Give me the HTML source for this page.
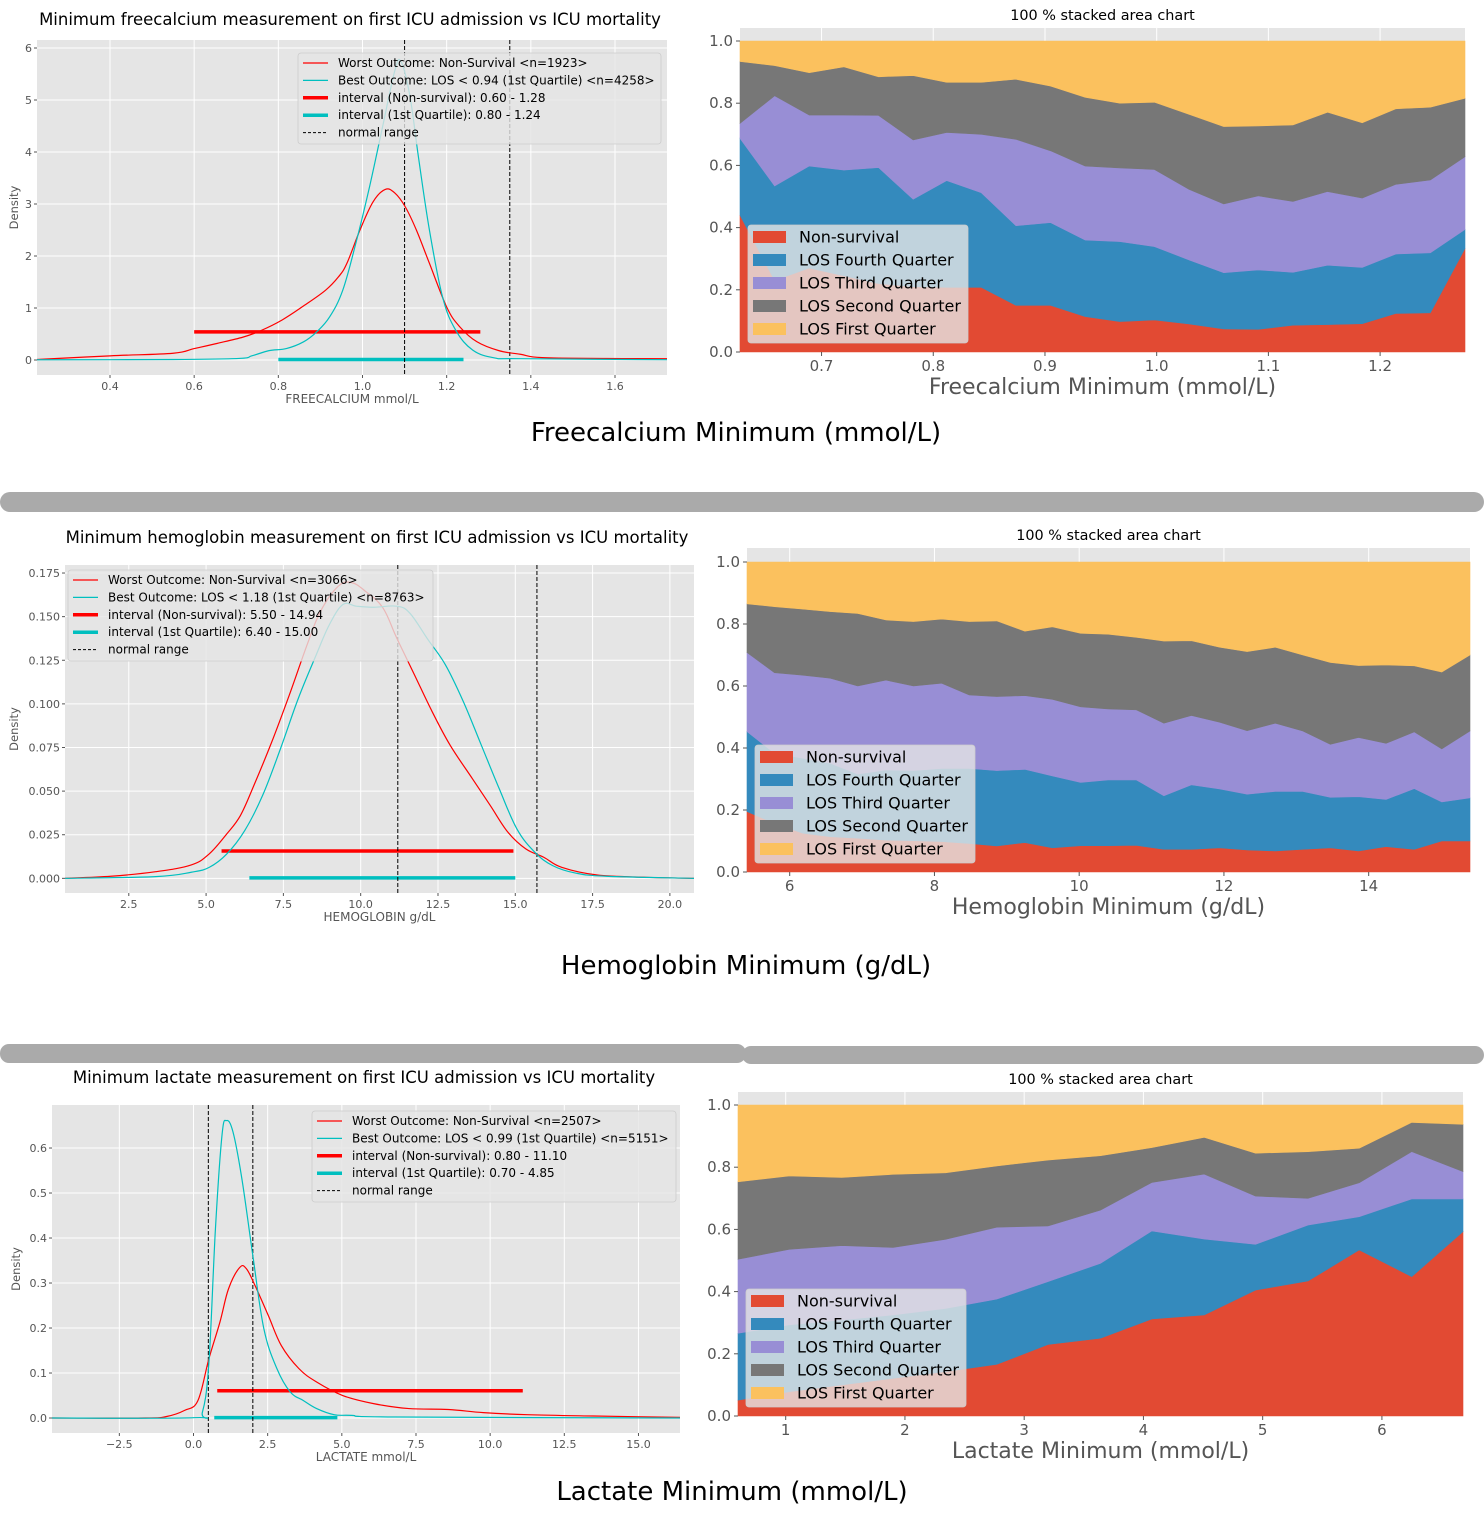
<!DOCTYPE html>
<html><head><meta charset="utf-8"><style>
html,body{margin:0;padding:0;background:#fff;}
svg{display:block;font-family:"DejaVu Sans","Liberation Sans",sans-serif;}
</style></head><body>
<svg id="root" width="1484" height="1540" viewBox="0 0 1484 1540" xmlns="http://www.w3.org/2000/svg">
<rect x="0" y="0" width="1484" height="1540" fill="#fff"/>
<rect x="0" y="492" width="1484" height="20" rx="10" fill="#AAAAAA"/>
<rect x="0" y="1044" width="746" height="19" rx="9" fill="#AAAAAA"/>
<rect x="742" y="1046" width="742" height="18" rx="9" fill="#AAAAAA"/>
<text x="736" y="441" font-size="26" text-anchor="middle" fill="#000">Freecalcium Minimum (mmol/L)</text>
<text x="746" y="974" font-size="26" text-anchor="middle" fill="#000">Hemoglobin Minimum (g/dL)</text>
<text x="732" y="1500" font-size="26" text-anchor="middle" fill="#000">Lactate Minimum (mmol/L)</text>
</svg>
<script>
// ---------- Freecalcium density chart data ----------
const fcRedX = [0.226,0.4,0.55,0.6,0.655,0.716,0.757,0.809,0.86,0.912,0.943,0.963,0.994,1.025,1.054,1.077,1.102,1.128,1.159,1.2,1.231,1.272,1.324,1.375,1.427,1.58,1.724];
const fcRedY = [0.01,0.08,0.13,0.22,0.32,0.44,0.56,0.77,1.04,1.34,1.6,1.86,2.5,3.04,3.28,3.21,2.94,2.5,1.86,1.02,0.64,0.35,0.18,0.11,0.045,0.03,0.025];
const fcCyanX = [0.226,0.55,0.706,0.737,0.778,0.819,0.86,0.891,0.922,0.953,0.984,1.015,1.046,1.077,1.092,1.113,1.133,1.159,1.19,1.221,1.262,1.314,1.375,1.724];
const fcCyanY = [0.005,0.01,0.03,0.08,0.18,0.22,0.35,0.54,0.83,1.34,2.24,3.27,4.42,5.57,5.73,5.06,3.9,2.5,1.22,0.58,0.19,0.04,0.025,0.006];
const fcIntervals = [0.60,1.28,0.54, 0.80,1.24,0.01];
const fcNormal = [1.10,1.35];
const fcXTicks = [0.4,0.6,0.8,1.0,1.2,1.4,1.6];
const fcXTickLabels = ["0.4","0.6","0.8","1.0","1.2","1.4","1.6"];
const fcYTicks = [0,1,2,3,4,5,6];
const fcYTickLabels = ["0","1","2","3","4","5","6"];
const fcLegend = ["Worst Outcome: Non-Survival <n=1923>","Best Outcome: LOS < 0.94 (1st Quartile) <n=4258>","interval (Non-survival): 0.60 - 1.28","interval (1st Quartile): 0.80 - 1.24","normal range"];

// ---------- Hemoglobin density chart data ----------
const hbRedX = [0.44,1.92,3.37,4.52,5.1,5.67,6.11,6.54,7.12,7.69,8.27,8.7,9.28,9.71,10.15,10.72,11.16,11.73,12.31,12.89,13.61,14.19,14.76,15.34,15.92,16.5,17.65,19.24,20.78];
const hbRedY = [0,0.0012,0.0038,0.0077,0.014,0.0255,0.036,0.053,0.078,0.105,0.134,0.153,0.1675,0.1695,0.1646,0.155,0.138,0.117,0.0956,0.0764,0.0572,0.0418,0.0265,0.0169,0.0121,0.0063,0.0019,0.0006,0];
const hbCyanX = [0.44,3.37,4.52,5.1,5.67,6.25,6.83,7.41,7.98,8.56,8.99,9.43,9.86,10.44,11.16,11.59,12.17,12.74,13.32,13.9,14.48,15.05,15.63,16.21,16.93,17.94,20.78];
const hbCyanY = [0,0.001,0.0035,0.0063,0.014,0.0274,0.0476,0.0745,0.103,0.128,0.1455,0.157,0.156,0.1554,0.156,0.152,0.137,0.1224,0.1013,0.0764,0.0514,0.0284,0.015,0.0073,0.0031,0.0012,0];
const hbIntervals = [5.50,14.94,0.0157, 6.40,15.00,0.0003];
const hbNormal = [11.2,15.7];
const hbXTicks = [2.5,5,7.5,10,12.5,15,17.5,20];
const hbXTickLabels = ["2.5","5.0","7.5","10.0","12.5","15.0","17.5","20.0"];
const hbYTicks = [0,0.025,0.05,0.075,0.1,0.125,0.15,0.175];
const hbYTickLabels = ["0.000","0.025","0.050","0.075","0.100","0.125","0.150","0.175"];
const hbLegend = ["Worst Outcome: Non-Survival <n=3066>","Best Outcome: LOS < 1.18 (1st Quartile) <n=8763>","interval (Non-survival): 5.50 - 14.94","interval (1st Quartile): 6.40 - 15.00","normal range"];

// ---------- Lactate density chart data ----------
const lcRedX = [-4.77,-1.63,-0.89,-0.3,0.15,0.52,0.89,1.18,1.55,1.78,2.07,2.52,2.96,3.55,4.15,5.03,6.07,7.26,8.59,9.77,11.25,13.47,16.41];
const lcRedY = [0,0,0.0037,0.017,0.039,0.132,0.213,0.287,0.334,0.332,0.295,0.228,0.161,0.11,0.08,0.05,0.032,0.021,0.019,0.012,0.0074,0.0044,0.0015];
const lcCyanX = [-4.77,0,0.3,0.52,0.74,0.96,1.11,1.33,1.63,2.0,2.37,2.81,3.26,3.7,4.15,4.74,5.33,6.81,16.41];
const lcCyanY = [0,0.0007,0.013,0.124,0.421,0.628,0.661,0.636,0.532,0.361,0.199,0.11,0.058,0.039,0.021,0.0074,0.0059,0.0022,0];
const lcIntervals = [0.80,11.10,0.0607, 0.70,4.85,0.001];
const lcNormal = [0.5,2.0];
const lcXTicks = [-2.5,0,2.5,5,7.5,10,12.5,15];
const lcXTickLabels = ["\u22122.5","0.0","2.5","5.0","7.5","10.0","12.5","15.0"];
const lcYTicks = [0,0.1,0.2,0.3,0.4,0.5,0.6];
const lcYTickLabels = ["0.0","0.1","0.2","0.3","0.4","0.5","0.6"];
const lcLegend = ["Worst Outcome: Non-Survival <n=2507>","Best Outcome: LOS < 0.99 (1st Quartile) <n=5151>","interval (Non-survival): 0.80 - 11.10","interval (1st Quartile): 0.70 - 4.85","normal range"];

// ---------- Stacked charts data (cumulative tops of each band) ----------
const sfX = [0.627,0.658,0.689,0.720,0.751,0.782,0.812,0.843,0.874,0.905,0.936,0.967,0.998,1.029,1.060,1.091,1.122,1.153,1.184,1.214,1.245,1.276];
const sfNonSurvival = [0.44,0.23,0.27,0.245,0.22,0.21,0.208,0.208,0.15,0.15,0.114,0.098,0.103,0.09,0.074,0.073,0.086,0.088,0.091,0.124,0.126,0.333];
const sfFourth = [0.687,0.534,0.598,0.585,0.593,0.491,0.551,0.512,0.406,0.416,0.360,0.355,0.339,0.296,0.255,0.264,0.256,0.279,0.272,0.315,0.319,0.394];
const sfThird = [0.735,0.824,0.762,0.762,0.761,0.682,0.706,0.700,0.684,0.647,0.598,0.592,0.587,0.523,0.476,0.502,0.484,0.516,0.495,0.539,0.553,0.628];
const sfSecond = [0.934,0.921,0.898,0.917,0.885,0.889,0.867,0.867,0.877,0.855,0.819,0.800,0.803,0.764,0.725,0.727,0.730,0.771,0.737,0.782,0.787,0.816];
const sfXTicks = [0.7,0.8,0.9,1.0,1.1,1.2];
const sfXTickLabels = ["0.7","0.8","0.9","1.0","1.1","1.2"];

const shX = [5.41,5.79,6.18,6.56,6.94,7.33,7.71,8.10,8.48,8.86,9.25,9.63,10.02,10.40,10.79,11.17,11.55,11.94,12.32,12.71,13.09,13.47,13.86,14.24,14.63,15.01,15.40];
const shNonSurvival = [0.195,0.157,0.125,0.114,0.109,0.103,0.101,0.098,0.092,0.084,0.095,0.078,0.085,0.085,0.086,0.073,0.073,0.078,0.071,0.068,0.073,0.078,0.068,0.082,0.073,0.100,0.100];
const shFourth = [0.453,0.383,0.367,0.351,0.316,0.329,0.327,0.334,0.334,0.327,0.331,0.310,0.289,0.297,0.297,0.246,0.281,0.268,0.251,0.260,0.260,0.241,0.243,0.234,0.269,0.226,0.239];
const shThird = [0.708,0.643,0.635,0.625,0.600,0.619,0.600,0.609,0.571,0.566,0.569,0.557,0.533,0.526,0.523,0.480,0.505,0.483,0.456,0.480,0.455,0.412,0.434,0.415,0.452,0.397,0.455];
const shSecond = [0.865,0.856,0.848,0.840,0.834,0.813,0.808,0.816,0.808,0.810,0.777,0.791,0.770,0.767,0.757,0.745,0.746,0.725,0.711,0.725,0.700,0.676,0.666,0.668,0.665,0.645,0.700];
const shXTicks = [6,8,10,12,14];
const shXTickLabels = ["6","8","10","12","14"];

const slX = [0.60,1.03,1.47,1.90,2.34,2.77,3.20,3.64,4.07,4.51,4.94,5.38,5.81,6.25,6.68];
const slNonSurvival = [0.051,0.078,0.100,0.121,0.143,0.166,0.230,0.250,0.312,0.325,0.405,0.434,0.534,0.448,0.593];
const slFourth = [0.266,0.293,0.309,0.325,0.346,0.376,0.432,0.491,0.595,0.569,0.552,0.614,0.641,0.698,0.698];
const slThird = [0.504,0.536,0.548,0.542,0.568,0.607,0.611,0.662,0.751,0.778,0.707,0.700,0.750,0.850,0.786];
const slSecond = [0.753,0.772,0.767,0.777,0.782,0.804,0.823,0.837,0.863,0.896,0.845,0.850,0.861,0.944,0.938];
const slXTicks = [1,2,3,4,5,6];
const slXTickLabels = ["1","2","3","4","5","6"];

const stackYTicks = [0,0.2,0.4,0.6,0.8,1.0];
const stackYTickLabels = ["0.0","0.2","0.4","0.6","0.8","1.0"];
const stackLegend = ["Non-survival","LOS Fourth Quarter","LOS Third Quarter","LOS Second Quarter","LOS First Quarter"];
const stackColors = ["#E24A33","#348ABD","#988ED5","#777777","#FBC15E"];

const NS = "http://www.w3.org/2000/svg";
const root = document.getElementById('root');
function mk(parent, tag, attrs, txt) {
  const e = document.createElementNS(NS, tag);
  for (const k in attrs) e.setAttribute(k, attrs[k]);
  if (txt !== undefined) e.textContent = txt;
  parent.appendChild(e);
  return e;
}
function scale(d0, d1, r0, r1) { return v => r0 + (v - d0) / (d1 - d0) * (r1 - r0); }
function smoothPath(P) {
  // monotone-x Catmull-Rom style cubic
  let d = 'M' + P[0][0] + ',' + P[0][1];
  for (let i = 0; i < P.length - 1; i++) {
    const p0 = P[Math.max(0, i-1)], p1 = P[i], p2 = P[i+1], p3 = P[Math.min(P.length-1, i+2)];
    const t = 0.18;
    const c1x = p1[0] + (p2[0]-p0[0])*t, c1y = p1[1] + (p2[1]-p0[1])*t;
    const c2x = p2[0] - (p3[0]-p1[0])*t, c2y = p2[1] - (p3[1]-p1[1])*t;
    d += ' C' + c1x + ',' + c1y + ' ' + c2x + ',' + c2y + ' ' + p2[0] + ',' + p2[1];
  }
  return d;
}

function densityChart(cfg) {
  const g = mk(root, 'g', {});
  
  
  const sx = scale(cfg.xd[0], cfg.xd[1], cfg.px[0], cfg.px[1]);
  const sy = scale(cfg.yd[0], cfg.yd[1], cfg.py[1], cfg.py[0]);
  const bg = mk(g, 'rect', {x: cfg.px[0], y: cfg.py[0], width: cfg.px[1]-cfg.px[0], height: cfg.py[1]-cfg.py[0], fill: '#E5E5E5'});
  
  
  cfg.xt.forEach((t, i) => {
    const X = sx(t);
    mk(g, 'line', {x1: X, x2: X, y1: cfg.py[0], y2: cfg.py[1], stroke: '#fff', 'stroke-width': 1});
    mk(g, 'line', {x1: X, x2: X, y1: cfg.py[1], y2: cfg.py[1]+3, stroke: '#555', 'stroke-width': 1});
    const tl = mk(g, 'text', {x: X, y: cfg.py[1]+15, 'font-size': 11, 'text-anchor': 'middle', fill: '#555'}, cfg.xl[i]);
    
    
  });
  cfg.yt.forEach((t, i) => {
    const Y = sy(t);
    mk(g, 'line', {x1: cfg.px[0], x2: cfg.px[1], y1: Y, y2: Y, stroke: '#fff', 'stroke-width': 1});
    mk(g, 'line', {x1: cfg.px[0]-3, x2: cfg.px[0], y1: Y, y2: Y, stroke: '#555', 'stroke-width': 1});
    const tl = mk(g, 'text', {x: cfg.px[0]-5, y: Y+4, 'font-size': 11, 'text-anchor': 'end', fill: '#555'}, cfg.yl[i]);
    
    
  });
  const clipId = cfg.name + '-clip';
  const cp = mk(g, 'clipPath', {id: clipId});
  mk(cp, 'rect', {x: cfg.px[0], y: cfg.py[0], width: cfg.px[1]-cfg.px[0], height: cfg.py[1]-cfg.py[0]});
  const pg = mk(g, 'g', {'clip-path': 'url(#' + clipId + ')'});
  const iv = cfg.iv;
  const r1 = mk(pg, 'line', {x1: sx(iv[0]), x2: sx(iv[1]), y1: sy(iv[2]), y2: sy(iv[2]), stroke: '#FF0000', 'stroke-width': 3.5});
  
  
  const r2 = mk(pg, 'line', {x1: sx(iv[3]), x2: sx(iv[4]), y1: sy(iv[5]), y2: sy(iv[5]), stroke: '#00BFBF', 'stroke-width': 3.5});
  
  
  cfg.normal.forEach(v => {
    const nl = mk(pg, 'line', {x1: sx(v), x2: sx(v), y1: cfg.py[0], y2: cfg.py[1], stroke: '#000', 'stroke-width': 1, 'stroke-dasharray': '4,2'});
    
    
  });
  const red = mk(pg, 'path', {d: smoothPath(cfg.rx.map((x, i) => [sx(x), sy(cfg.ry[i])])), fill: 'none', stroke: '#FF0000', 'stroke-width': 1.2});
  
  
  const cy = mk(pg, 'path', {d: smoothPath(cfg.cx.map((x, i) => [sx(x), sy(cfg.cy[i])])), fill: 'none', stroke: '#00BFBF', 'stroke-width': 1.2});
  
  
  const L = cfg.leg;
  const lg = mk(g, 'g', {});
  
  
  mk(lg, 'rect', {x: L[0], y: L[1], width: L[2], height: L[3], rx: 3, fill: '#E5E5E5', 'fill-opacity': 0.8, stroke: '#CCCCCC', 'stroke-width': 0.8});
  const sty = [['#FF0000',1.2,''],['#00BFBF',1.2,''],['#FF0000',3.5,''],['#00BFBF',3.5,''],['#000',1,'3,2']];
  cfg.legText.forEach((t, i) => {
    const yy = L[1] + 10 + i * 17.4;
    mk(lg, 'line', {x1: L[0]+5, x2: L[0]+30, y1: yy, y2: yy, stroke: sty[i][0], 'stroke-width': sty[i][1], 'stroke-dasharray': sty[i][2] || 'none'});
    const lt = mk(lg, 'text', {x: L[0]+40, y: yy+4, 'font-size': 12, fill: '#000'}, t);
    
    
  });
  const tt = mk(g, 'text', {x: cfg.title[1], y: cfg.title[2], 'font-size': 16.5, 'text-anchor': 'middle', fill: '#000'}, cfg.title[0]);
  
  
  const xl = mk(g, 'text', {x: (cfg.px[0]+cfg.px[1])/2, y: cfg.py[1]+28, 'font-size': 12, 'text-anchor': 'middle', fill: '#555'}, cfg.xlabel);
  
  
  const ylx = cfg.ylabx, yly = (cfg.py[0]+cfg.py[1])/2;
  const yl = mk(g, 'text', {x: ylx, y: yly, 'font-size': 11.5, 'text-anchor': 'middle', fill: '#555', transform: 'rotate(-90 ' + ylx + ' ' + yly + ')'}, 'Density');
  
  
}

function stackChart(cfg) {
  const g = mk(root, 'g', {});
  
  
  const sx = scale(cfg.x[0], cfg.x[cfg.x.length-1], cfg.px[0], cfg.px[1]);
  const sy = scale(0, 1, cfg.y0, cfg.y1);
  const bg = mk(g, 'rect', {x: cfg.px[0], y: cfg.top, width: cfg.px[1]-cfg.px[0], height: cfg.y0-cfg.top, fill: '#E5E5E5'});
  
  
  cfg.xt.forEach(t => mk(g, 'line', {x1: sx(t), x2: sx(t), y1: cfg.top, y2: cfg.y0, stroke: '#fff', 'stroke-width': 1}));
  const ones = cfg.x.map(() => 1);
  const zeros = cfg.x.map(() => 0);
  const bands = [zeros, cfg.s[0], cfg.s[1], cfg.s[2], cfg.s[3], ones];
  const names = ['area-non-survival','area-los-fourth-quarter','area-los-third-quarter','area-los-second-quarter','area-los-first-quarter'];
  for (let b = 0; b < 5; b++) {
    const lo = bands[b], hi = bands[b+1];
    const pts = cfg.x.map((x, i) => sx(x) + ',' + sy(hi[i]));
    for (let i = cfg.x.length - 1; i >= 0; i--) pts.push(sx(cfg.x[i]) + ',' + sy(lo[i]));
    const p = mk(g, 'polygon', {points: pts.join(' '), fill: stackColors[b], stroke: stackColors[b], 'stroke-width': 0.6});
    
    
  }
  stackYTicks.forEach((t, i) => {
    mk(g, 'line', {x1: cfg.px[0]-4, x2: cfg.px[0], y1: sy(t), y2: sy(t), stroke: '#555'});
    const tl = mk(g, 'text', {x: cfg.px[0]-7, y: sy(t)+5, 'font-size': 15, 'text-anchor': 'end', fill: '#555'}, stackYTickLabels[i]);
    
    
  });
  cfg.xt.forEach((t, i) => {
    mk(g, 'line', {x1: sx(t), x2: sx(t), y1: cfg.y0, y2: cfg.y0+4, stroke: '#555'});
    const tl = mk(g, 'text', {x: sx(t), y: cfg.y0+19, 'font-size': 15, 'text-anchor': 'middle', fill: '#555'}, cfg.xl[i]);
    
    
  });
  const L = cfg.leg;
  const lg = mk(g, 'g', {});
  
  
  mk(lg, 'rect', {x: L[0], y: L[1], width: 220, height: 118, rx: 3, fill: '#E5E5E5', 'fill-opacity': 0.8, stroke: '#CCCCCC', 'stroke-width': 0.8});
  stackLegend.forEach((t, i) => {
    const yy = L[1] + 12 + i * 23;
    mk(lg, 'rect', {x: L[0]+5, y: yy-6, width: 33, height: 12, fill: stackColors[i]});
    const lt = mk(lg, 'text', {x: L[0]+51, y: yy+5.5, 'font-size': 16, fill: '#000'}, t);
    
    
  });
  const cx = (cfg.px[0]+cfg.px[1])/2;
  const tt = mk(g, 'text', {x: cx, y: cfg.top-8, 'font-size': 14.4, 'text-anchor': 'middle', fill: '#000'}, '100 % stacked area chart');
  
  
  const xl = mk(g, 'text', {x: cx, y: cfg.y0+42, 'font-size': 22, 'text-anchor': 'middle', fill: '#555'}, cfg.xlabel);
  
  
}

densityChart({name: 'freecalcium-density-chart', px: [37,667], py: [40,375], xd: [0.2265,1.7236], yd: [-0.2885,6.154],
  rx: fcRedX, ry: fcRedY, cx: fcCyanX, cy: fcCyanY, iv: fcIntervals, normal: fcNormal,
  xt: fcXTicks, xl: fcXTickLabels, yt: fcYTicks, yl: fcYTickLabels, leg: [298,53,363,91], legText: fcLegend,
  title: ['Minimum freecalcium measurement on first ICU admission vs ICU mortality', 350, 25], xlabel: 'FREECALCIUM mmol/L', ylabx: 18});
densityChart({name: 'hemoglobin-density-chart', px: [65,694], py: [565,893], xd: [0.437,20.78], yd: [-0.0084,0.1796],
  rx: hbRedX, ry: hbRedY, cx: hbCyanX, cy: hbCyanY, iv: hbIntervals, normal: hbNormal,
  xt: hbXTicks, xl: hbXTickLabels, yt: hbYTicks, yl: hbYTickLabels, leg: [68,570,365,91], legText: hbLegend,
  title: ['Minimum hemoglobin measurement on first ICU admission vs ICU mortality', 377, 543], xlabel: 'HEMOGLOBIN g/dL', ylabx: 18});
densityChart({name: 'lactate-density-chart', px: [52,680], py: [1105,1433], xd: [-4.77,16.4], yd: [-0.0333,0.6956],
  rx: lcRedX, ry: lcRedY, cx: lcCyanX, cy: lcCyanY, iv: lcIntervals, normal: lcNormal,
  xt: lcXTicks, xl: lcXTickLabels, yt: lcYTicks, yl: lcYTickLabels, leg: [312,1111,364,91], legText: lcLegend,
  title: ['Minimum lactate measurement on first ICU admission vs ICU mortality', 364, 1083], xlabel: 'LACTATE mmol/L', ylabx: 20});

stackChart({name: 'freecalcium-stacked-area-chart', x: sfX, s: [sfNonSurvival, sfFourth, sfThird, sfSecond], px: [740,1465], top: 28, y0: 352, y1: 41,
  xt: sfXTicks, xl: sfXTickLabels, leg: [748,225], xlabel: 'Freecalcium Minimum (mmol/L)'});
stackChart({name: 'hemoglobin-stacked-area-chart', x: shX, s: [shNonSurvival, shFourth, shThird, shSecond], px: [747,1470], top: 548, y0: 872, y1: 562,
  xt: shXTicks, xl: shXTickLabels, leg: [755,745], xlabel: 'Hemoglobin Minimum (g/dL)'});
stackChart({name: 'lactate-stacked-area-chart', x: slX, s: [slNonSurvival, slFourth, slThird, slSecond], px: [738,1463], top: 1092, y0: 1416, y1: 1105,
  xt: slXTicks, xl: slXTickLabels, leg: [746,1289], xlabel: 'Lactate Minimum (mmol/L)'});
</script>
</body></html>
